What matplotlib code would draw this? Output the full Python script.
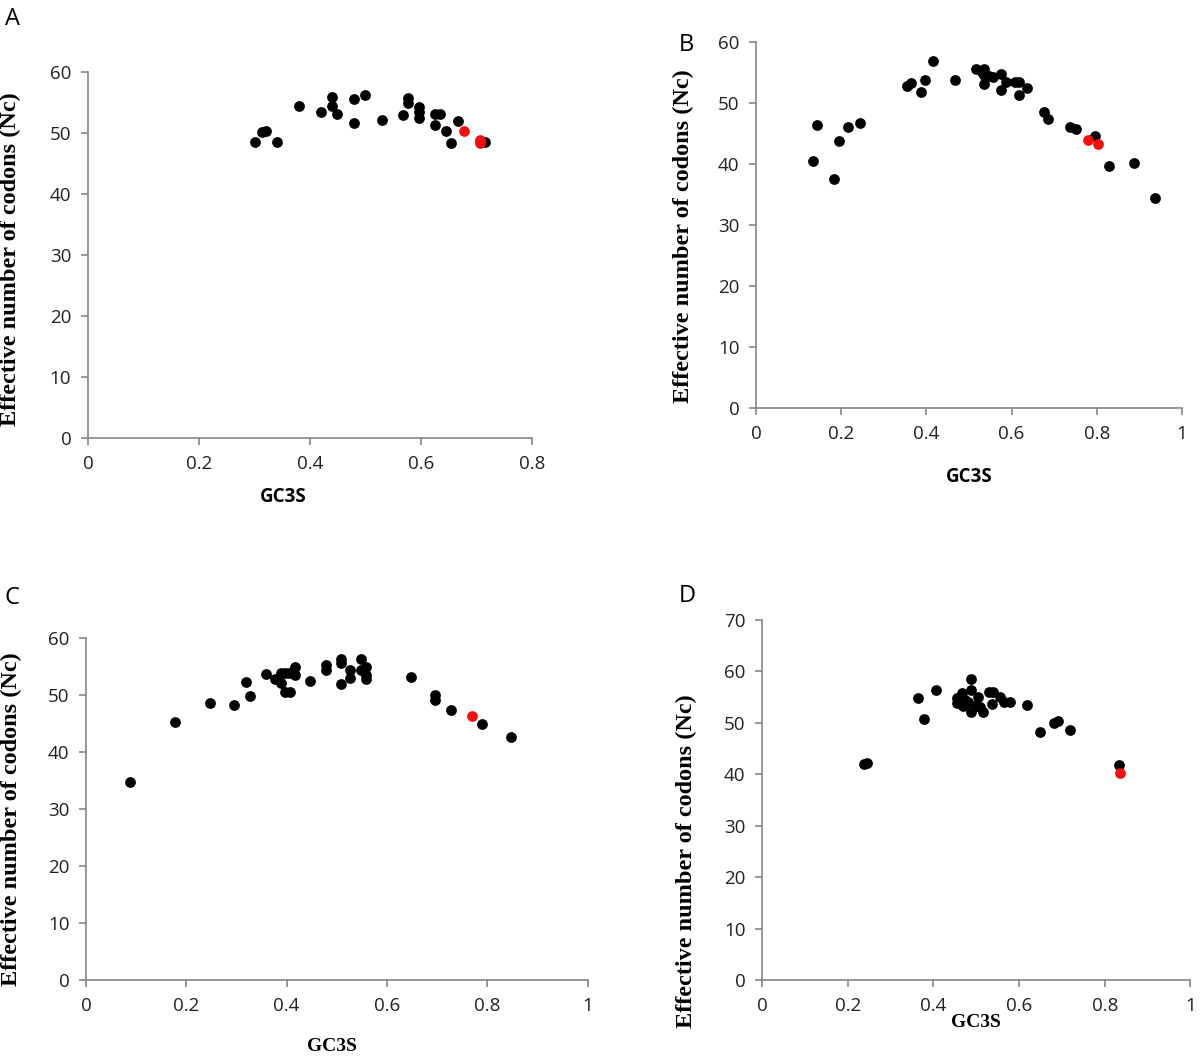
import matplotlib
matplotlib.use('Agg')
import matplotlib.pyplot as plt

# ---- panel A data (GC3S, Nc) ----
a_gc3s = [0.301, 0.313, 0.321, 0.340, 0.381, 0.420, 0.440, 0.440, 0.448, 0.479, 0.479, 0.499, 0.529,
          0.568, 0.576, 0.576, 0.596, 0.596, 0.596, 0.626, 0.635, 0.626, 0.646, 0.654, 0.666, 0.715]
a_nc = [48.6, 50.1, 50.4, 48.6, 54.4, 53.4, 55.9, 54.4, 53.1, 55.6, 51.6, 56.2, 52.2,
        52.9, 55.7, 54.9, 54.2, 53.4, 52.4, 53.1, 53.1, 51.3, 50.3, 48.3, 51.9, 48.6]
a_red_gc3s = [0.678, 0.706, 0.706]
a_red_nc = [50.3, 48.8, 48.3]

# ---- panel B data ----
b_gc3s = [0.133, 0.144, 0.184, 0.195, 0.216, 0.245, 0.354, 0.364, 0.387, 0.397, 0.416, 0.466,
          0.516, 0.530, 0.536, 0.536, 0.536, 0.548, 0.557, 0.575, 0.575, 0.587, 0.608, 0.618,
          0.618, 0.637, 0.677, 0.685, 0.737, 0.751, 0.796, 0.829, 0.887, 0.937]
b_nc = [40.5, 46.4, 37.5, 43.8, 46.0, 46.7, 52.8, 53.3, 51.8, 53.7, 56.8, 53.7,
        55.6, 55.1, 55.6, 54.6, 53.1, 54.4, 54.3, 54.7, 52.1, 53.4, 53.4, 53.4,
        51.3, 52.5, 48.6, 47.3, 46.1, 45.7, 44.6, 39.7, 40.2, 34.4]
b_red_gc3s = [0.780, 0.802]
b_red_nc = [44.0, 43.2]

# ---- panel C data ----
c_gc3s = [0.087, 0.177, 0.248, 0.295, 0.318, 0.327, 0.358, 0.376, 0.388, 0.388, 0.396, 0.405,
          0.416, 0.416, 0.396, 0.406, 0.446, 0.478, 0.478, 0.509, 0.509, 0.509, 0.527, 0.527,
          0.549, 0.549, 0.558, 0.558, 0.558, 0.647, 0.696, 0.696, 0.727, 0.789, 0.847]
c_nc = [34.8, 45.3, 48.6, 48.2, 52.2, 49.9, 53.6, 52.8, 53.8, 52.1, 53.8, 53.8,
        55.0, 53.5, 50.6, 50.6, 52.5, 55.3, 54.4, 56.3, 55.6, 51.9, 54.4, 52.9,
        56.3, 54.3, 55.0, 53.5, 52.8, 53.2, 50.0, 49.1, 47.4, 45.0, 42.7]
c_red_gc3s = [0.770]
c_red_nc = [46.3]

# ---- panel D data ----
d_gc3s = [0.237, 0.246, 0.365, 0.377, 0.406, 0.488, 0.488, 0.467, 0.455, 0.455, 0.482, 0.488,
          0.505, 0.509, 0.517, 0.529, 0.540, 0.537, 0.556, 0.564, 0.578, 0.618, 0.650, 0.681,
          0.690, 0.720, 0.833, 0.470, 0.497, 0.475]
d_nc = [42.0, 42.2, 54.8, 50.8, 56.3, 58.6, 56.3, 55.8, 54.8, 53.9, 54.0, 52.1,
        55.0, 53.1, 52.2, 56.1, 56.1, 53.7, 55.1, 54.0, 54.1, 53.4, 48.3, 50.0,
        50.3, 48.6, 41.9, 53.3, 53.3, 54.5]
d_red_gc3s = [0.835]
d_red_nc = [40.3]

YLABEL = 'Effective number of codons (Nc)'
AXIS_GREY = '#868686'

fig = plt.figure(figsize=(12, 10.57), dpi=100)


def panel(rect, xs, ys, rxs, rys, xmax, ymax, xlabel_serif, xlab_pos, ylab_pos):
    ax = fig.add_axes(rect)
    ax.scatter(xs, ys, s=60, color='black', zorder=3, linewidths=0)
    ax.scatter(rxs, rys, s=60, color='#ee1111', zorder=4, linewidths=0)
    ax.set_xlim(0, xmax)
    ax.set_ylim(0, ymax)
    n = int(round(xmax / 0.2))
    ax.set_xticks([i * 0.2 for i in range(n + 1)])
    ax.set_xticklabels(['0' if i == 0 else ('1' if i == 5 else '{:.1f}'.format(i * 0.2))
                        for i in range(n + 1)])
    ax.set_yticks(range(0, ymax + 1, 10))
    for side in ['top', 'right']:
        ax.spines[side].set_visible(False)
    for side in ['left', 'bottom']:
        ax.spines[side].set_color(AXIS_GREY)
        ax.spines[side].set_linewidth(1.2)
    ax.tick_params(direction='out', length=5, width=1.2, color=AXIS_GREY,
                   labelsize=13.5, labelcolor='#222222', pad=7)
    for lab in ax.get_xticklabels() + ax.get_yticklabels():
        lab.set_family('Open Sans')
    ax.set_ylabel(YLABEL, family='Liberation Serif', fontweight='bold', fontsize=17.5)
    ax.yaxis.set_label_coords(ylab_pos[0], ylab_pos[1])
    if xlabel_serif:
        ax.set_xlabel('GC3S', family='Liberation Serif', fontweight='bold', fontsize=14)
    else:
        ax.set_xlabel('GC3S', family='Open Sans', fontweight='bold', fontsize=13.5)
    ax.xaxis.set_label_coords(xlab_pos[0], xlab_pos[1])
    ax.patch.set_alpha(0)
    return ax


panel([0.0733, 0.5856, 0.37, 0.3463], a_gc3s, a_nc, a_red_gc3s, a_red_nc,
      0.8, 60, False, (0.44, -0.135), (-0.15, 0.49))
panel([0.63, 0.614, 0.355, 0.3463], b_gc3s, b_nc, b_red_gc3s, b_red_nc,
      1.0, 60, False, (0.5, -0.16), (-0.146, 0.47))
panel([0.0717, 0.0728, 0.418, 0.3236], c_gc3s, c_nc, c_red_gc3s, c_red_nc,
      1.0, 60, True, (0.49, -0.17), (-0.127, 0.47))
panel([0.635, 0.0728, 0.357, 0.3406], d_gc3s, d_nc, d_red_gc3s, d_red_nc,
      1.0, 70, True, (0.5, -0.095), (-0.152, 0.33))

# panel letters
for letter, x, y in [('A', 0.004, 0.982), ('B', 0.566, 0.957), ('C', 0.004, 0.434), ('D', 0.566, 0.436)]:
    fig.text(x, y, letter, fontsize=17, family='Open Sans', va='center')

fig.savefig('out.png', dpi=100)
